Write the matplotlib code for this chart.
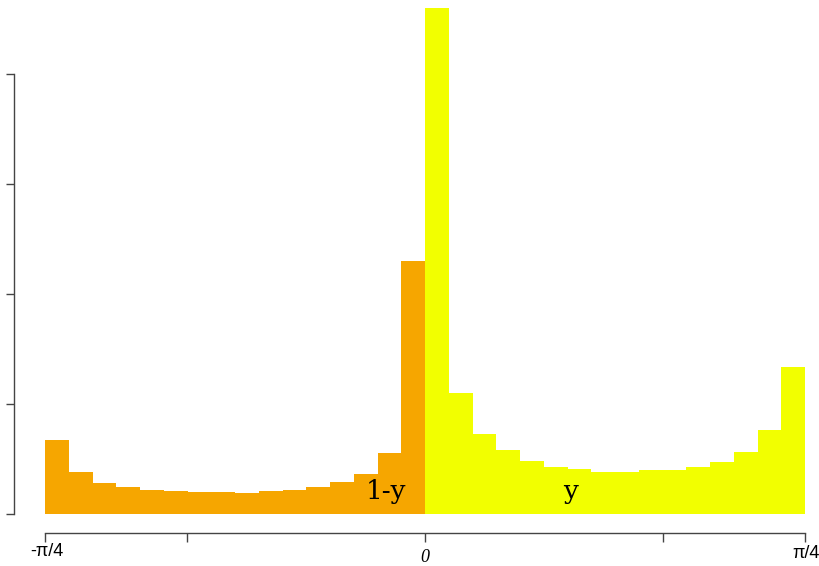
import numpy as np
import matplotlib
matplotlib.use("Agg")
import matplotlib.pyplot as plt
import matplotlib.transforms as mtransforms

# bin heights (tick units), 16 bins left of 0 and 16 right of 0
left_heights = [0.673, 0.385, 0.285, 0.245, 0.221, 0.209, 0.203, 0.197,
                0.194, 0.209, 0.218, 0.245, 0.294, 0.367, 0.555, 2.30]
right_heights = [4.60, 1.103, 0.730, 0.582, 0.482, 0.430, 0.406, 0.382,
                 0.382, 0.400, 0.400, 0.424, 0.475, 0.564, 0.764, 1.339]

x_min, x_max = -np.pi / 4, np.pi / 4
x_ticks = [-np.pi / 4, -0.492, 0, 0.492, np.pi / 4]
y_ticks = [0, 1, 2, 3, 4]

orange = "#F6A600"
yellow = "#F2FF00"

edges = np.linspace(x_min, x_max, len(left_heights) + len(right_heights) + 1)
width = edges[1] - edges[0]
n_left = len(left_heights)

fig = plt.figure(figsize=(8.2, 5.66), dpi=100)
ax = fig.add_axes([45 / 820, 52 / 566, 760 / 820, 506 / 566])

ax.bar(edges[:n_left], left_heights, width=width, align="edge",
       color=orange, linewidth=0)
ax.bar(edges[n_left:-1], right_heights, width=width, align="edge",
       color=yellow, linewidth=0)

ax.set_xlim(x_min, x_max)
ax.set_ylim(0, 4.6)

# R-style detached axes
for side in ["top", "right"]:
    ax.spines[side].set_visible(False)
ax.spines["left"].set_position(("outward", 22.3))
ax.spines["left"].set_bounds(0, 4)
ax.spines["bottom"].set_position(("outward", 13.7))
ax.spines["bottom"].set_bounds(x_min, x_max)
for side in ["left", "bottom"]:
    ax.spines[side].set_color("#444444")
    ax.spines[side].set_linewidth(1)

ax.set_yticks(y_ticks)
ax.set_yticklabels([])
ax.set_xticks(x_ticks)
ax.set_xticklabels([])
ax.tick_params(axis="y", direction="out", length=5.8, width=1, color="#444444")
ax.tick_params(axis="x", direction="out", length=6.3, width=1, color="#444444")

trans = mtransforms.blended_transform_factory(ax.transData, fig.transFigure)
ax.text(-np.pi / 4 + 0.003, 1 - 551 / 566, "-π/4", transform=trans,
        ha="center", va="center", fontsize=13, family="Liberation Sans")
ax.text(0, 1 - 558 / 566, "0", transform=trans, ha="center", va="center",
        fontsize=13, family="Liberation Serif", style="italic")
ax.text(np.pi / 4 + 0.002, 1 - 554 / 566, "π/4", transform=trans,
        ha="center", va="center", fontsize=13, family="Liberation Sans")

# region labels
ax.text(-0.0806, 0.136, "1-y", ha="center", va="baseline",
        fontsize=19, family="DejaVu Serif")
ax.text(0.30, 0.136, "y", ha="center", va="baseline",
        fontsize=19, family="DejaVu Serif")

fig.savefig("out.png", dpi=100)
